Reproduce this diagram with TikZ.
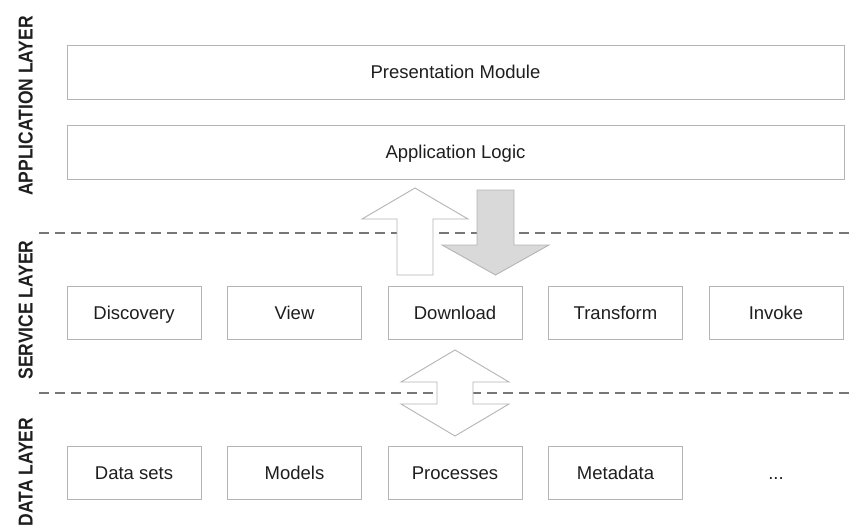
\documentclass[tikz,border=0pt]{standalone}
\usepackage{fontspec}
\setmainfont{Liberation Sans}
\usetikzlibrary{positioning}
\definecolor{boxline}{HTML}{B4B4B4}
\definecolor{sepline}{HTML}{777777}
\definecolor{arrowfill}{HTML}{D9D9D9}
\definecolor{txt}{HTML}{1E1E1E}

\begin{document}
\begin{tikzpicture}[x=1pt,y=-1pt,font=\fontsize{18.5}{22}\selectfont,
  every node/.style={text height=13.3pt,text depth=0pt},
  wide/.style={draw=boxline,line width=0.9pt,minimum width=777,minimum height=54,text=txt},
  cell/.style={draw=boxline,line width=0.9pt,minimum width=134,minimum height=53,text=txt},
  sep/.style={sepline,line width=1.7pt,dash pattern=on 10pt off 6pt},
  blockarrow/.style={draw=boxline,line width=0.9pt,fill=white,line join=miter},
  layer/.style={font=\fontsize{17.5}{20}\selectfont\bfseries,text=txt,xscale=1.15,rotate=90}]
\useasboundingbox (0,0) rectangle (855,530);
\draw[sep] (39,233) -- (855,233);
\draw[sep] (39,393) -- (855,393);
\node[wide] (pres) at (455.5,72) {Presentation Module};
\node[wide] (logic) at (455.5,152) {Application Logic};
\foreach \name/\txt [count=\i from 0] in {disc/Discovery,view/View,dl/Download,trans/Transform,inv/Invoke}
  \node[cell] (\name) at (134+\i*160.5,312.5) {\txt};
\foreach \name/\txt [count=\i from 0] in {sets/Data sets,models/Models,proc/Processes,meta/Metadata}
  \node[cell] (\name) at (134+\i*160.5,473) {\txt};
\node[text=txt] (more) at (776,473) {...};
\draw[blockarrow] (397,275) -- (397,219) -- (362,219) -- (415,188) -- (468,219) -- (433,219) -- (433,275) -- cycle;
\draw[blockarrow,fill=arrowfill] (477,190) -- (514,190) -- (514,245) -- (549,245) -- (495.5,275) -- (442,245) -- (477,245) -- cycle;
\draw[blockarrow] (455,350) -- (509,382) -- (473,382) -- (473,404) -- (509,404) -- (455,436) -- (401,404) -- (437,404) -- (437,382) -- (401,382) -- cycle;
\node[layer] (applayer) at (25,106) {APPLICATION LAYER};
\node[layer] (srvlayer) at (25,310) {SERVICE LAYER};
\node[layer] (datalayer) at (25,472) {DATA LAYER};
\end{tikzpicture}
\end{document}
